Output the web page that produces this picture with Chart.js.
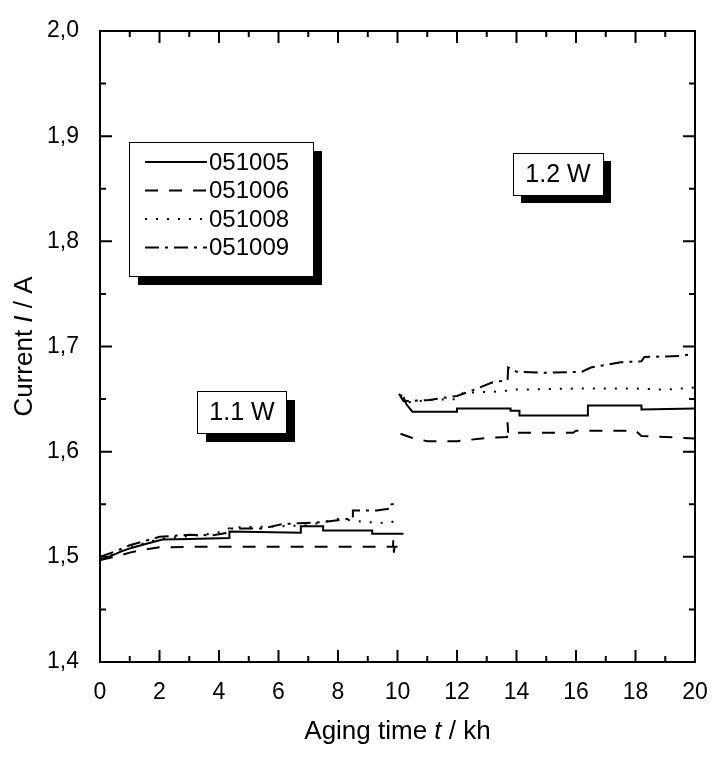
<!DOCTYPE html>
<html>
<head>
<meta charset="utf-8">
<script src="https://cdn.jsdelivr.net/npm/chart.js@4.4.1/dist/chart.umd.min.js"></script>
<style>
  html, body { margin: 0; padding: 0; background: #fff; }
</style>
</head>
<body>
<canvas id="chart" width="720" height="758"></canvas>
<script>
// tick labels
const xTickValues = [0, 2, 4, 6, 8, 10, 12, 14, 16, 18, 20];
const yTickValues = [1.4, 1.5, 1.6, 1.7, 1.8, 1.9, 2.0];
const yTickLabels = ['1,4', '1,5', '1,6', '1,7', '1,8', '1,9', '2,0'];

const seriesNames = ['051005', '051006', '051008', '051009'];

// 1.1 W phase (0-10 kh)
const t1_051005 = [0, 0.3, 0.7, 1.0, 1.5, 2.1, 3.0, 4.35, 4.35, 6.75, 6.75, 7.5, 7.5, 9.15, 9.15, 10.2];
const i1_051005 = [1.497, 1.500, 1.505, 1.508, 1.512, 1.5165, 1.517, 1.518, 1.524, 1.523, 1.529, 1.529, 1.525, 1.525, 1.522, 1.522];
const t1_051006 = [0, 0.5, 1.0, 1.5, 2.0, 3.0, 9.85, 9.86, 9.88, 9.9, 10.0];
const i1_051006 = [1.497, 1.500, 1.504, 1.507, 1.509, 1.5095, 1.5095, 1.517, 1.504, 1.5095, 1.5095];
const t1_051008 = [0, 0.5, 1.0, 2.0, 2.7, 3.5, 4.1, 4.4, 6.0, 7.0, 8.0, 9.0, 9.7, 10.0];
const i1_051008 = [1.499, 1.503, 1.509, 1.517, 1.519, 1.521, 1.524, 1.528, 1.529, 1.530, 1.536, 1.533, 1.532, 1.535];
const t1_051009 = [0, 0.5, 1.0, 2.0, 3.0, 3.8, 4.3, 4.4, 5.5, 6.1, 6.7, 7.5, 8.3, 8.5, 8.5, 9.3, 9.8, 9.8, 10.05];
const i1_051009 = [1.500, 1.505, 1.511, 1.519, 1.521, 1.5205, 1.523, 1.527, 1.527, 1.531, 1.532, 1.533, 1.536, 1.536, 1.544, 1.544, 1.546, 1.550, 1.551];

// 1.2 W phase (10-20 kh)
const t2_051005 = [10.2, 10.3, 10.5, 12.0, 12.0, 13.8, 13.8, 14.1, 14.1, 16.4, 16.4, 18.2, 18.2, 20];
const i2_051005 = [1.652, 1.645, 1.638, 1.638, 1.641, 1.641, 1.639, 1.639, 1.6345, 1.6345, 1.644, 1.644, 1.640, 1.641];
const t2_051006 = [10.1, 10.5, 11.0, 12.0, 13.0, 13.68, 13.7, 13.72, 14.0, 15.9, 16.0, 18.0, 18.2, 19.0, 20];
const i2_051006 = [1.617, 1.613, 1.610, 1.610, 1.613, 1.614, 1.628, 1.617, 1.618, 1.618, 1.620, 1.620, 1.615, 1.614, 1.6125];
const t2_051008 = [10.1, 10.4, 11.0, 12.0, 12.2, 13.2, 13.7, 14.0, 16.0, 18.0, 19.0, 20];
const i2_051008 = [1.654, 1.647, 1.649, 1.650, 1.656, 1.657, 1.658, 1.659, 1.660, 1.660, 1.659, 1.661];
const t2_051009 = [10.05, 10.2, 11.0, 12.0, 12.5, 13.2, 13.7, 13.72, 14.0, 15.0, 16.2, 16.5, 17.5, 18.2, 18.3, 19.5, 20];
const i2_051009 = [1.655, 1.648, 1.649, 1.653, 1.658, 1.666, 1.668, 1.680, 1.676, 1.675, 1.676, 1.680, 1.685, 1.686, 1.690, 1.691, 1.693];

const FONT = '"Liberation Sans", Arial, sans-serif';
const dashes = [[], [13, 11], [2, 9], [14, 6, 3, 6]];

function pts(t, v) {
  return t.map((x, k) => ({ x: x, y: v[k] }));
}
// two runs joined with a gap point
function joined(t1, v1, t2, v2) {
  return pts(t1, v1).concat([{ x: 10.1, y: null }], pts(t2, v2));
}

const seriesData = [
  joined(t1_051005, i1_051005, t2_051005, i2_051005),
  joined(t1_051006, i1_051006, t2_051006, i2_051006),
  joined(t1_051008, i1_051008, t2_051008, i2_051008),
  joined(t1_051009, i1_051009, t2_051009, i2_051009)
];

function boxWithShadow(ctx, x, y, w, h, off) {
  ctx.fillStyle = '#000';
  ctx.fillRect(x + off, y + off, w, h);
  ctx.fillStyle = '#fff';
  ctx.fillRect(x, y, w, h);
  ctx.strokeStyle = '#000';
  ctx.lineWidth = 1;
  ctx.strokeRect(x + 0.5, y + 0.5, w, h);
}

function mixedText(ctx, parts, cx, cy) {
  let total = 0;
  parts.forEach(p => { ctx.font = (p[1] ? 'italic ' : '') + '26px ' + FONT; total += ctx.measureText(p[0]).width; });
  let x = cx - total / 2;
  parts.forEach(p => {
    ctx.font = (p[1] ? 'italic ' : '') + '26px ' + FONT;
    ctx.fillText(p[0], x, cy);
    x += ctx.measureText(p[0]).width;
  });
}

const decorations = {
  id: 'decorations',
  afterDraw(chart) {
    const { ctx, chartArea: a, scales: { x, y } } = chart;
    ctx.save();
    // frame
    ctx.strokeStyle = '#000';
    ctx.lineWidth = 2;
    ctx.strokeRect(a.left, a.top, a.right - a.left, a.bottom - a.top);
    // inward ticks
    ctx.beginPath();
    for (let v = 0; v <= 20; v++) {
      const px = x.getPixelForValue(v);
      const len = v % 2 === 0 ? 12 : 6;
      ctx.moveTo(px, a.bottom); ctx.lineTo(px, a.bottom - len);
      ctx.moveTo(px, a.top); ctx.lineTo(px, a.top + len);
    }
    for (let k = 0; k <= 12; k++) {
      const py = y.getPixelForValue(1.4 + k * 0.05);
      const len = k % 2 === 0 ? 12 : 6;
      ctx.moveTo(a.left, py); ctx.lineTo(a.left + len, py);
      ctx.moveTo(a.right, py); ctx.lineTo(a.right - len, py);
    }
    ctx.stroke();

    // axis titles
    ctx.fillStyle = '#000';
    ctx.textBaseline = 'middle';
    ctx.textAlign = 'left';
    mixedText(ctx, [['Aging time ', false], ['t', true], [' / kh', false]], (a.left + a.right) / 2, 732);
    ctx.save();
    ctx.translate(25, (a.top + a.bottom) / 2);
    ctx.rotate(-Math.PI / 2);
    mixedText(ctx, [['Current ', false], ['I', true], [' / A', false]], 0, 0);
    ctx.restore();

    // legend
    boxWithShadow(ctx, 129, 142, 184, 134, 9);
    chart.data.datasets.forEach((ds, k) => {
      const ry = 162 + k * 28.5;
      ctx.beginPath();
      ctx.setLineDash(ds.borderDash);
      ctx.lineWidth = 2;
      ctx.moveTo(145, ry); ctx.lineTo(207, ry);
      ctx.stroke();
      ctx.setLineDash([]);
      ctx.fillStyle = '#000';
      ctx.font = '24px ' + FONT;
      ctx.textAlign = 'left';
      ctx.fillText(ds.label, 209, ry + 1);
    });

    // power labels
    ctx.textAlign = 'center';
    ctx.font = '25px ' + FONT;
    boxWithShadow(ctx, 197, 391, 89, 42, 9);
    ctx.fillStyle = '#000';
    ctx.fillText('1.1 W', 242, 413);
    boxWithShadow(ctx, 513, 153, 90, 42, 8);
    ctx.fillStyle = '#000';
    ctx.fillText('1.2 W', 558, 175);
    ctx.restore();
  }
};

new Chart(document.getElementById('chart').getContext('2d'), {
  type: 'line',
  data: {
    datasets: seriesNames.map((name, k) => ({
      label: name,
      data: seriesData[k],
      borderColor: '#000',
      borderWidth: 2,
      borderDash: dashes[k],
      pointRadius: 0,
      fill: false,
      tension: 0,
      spanGaps: false
    }))
  },
  options: {
    responsive: false,
    animation: false,
    devicePixelRatio: 1,
    layout: { padding: { left: 0, top: 31, right: 25, bottom: 0 } },
    plugins: { legend: { display: false }, tooltip: { enabled: false } },
    scales: {
      x: {
        type: 'linear',
        min: 0,
        max: 20,
        grid: { display: false },
        border: { display: false },
        afterBuildTicks: s => { s.ticks = xTickValues.map(v => ({ value: v })); },
        afterFit: s => { s.height = 96; },
        ticks: {
          autoSkip: false,
          maxRotation: 0,
          padding: 9,
          color: '#000',
          font: { family: FONT, size: 23 }
        }
      },
      y: {
        min: 1.4,
        max: 2.0,
        grid: { display: false },
        border: { display: false },
        afterBuildTicks: s => { s.ticks = yTickValues.map(v => ({ value: v })); },
        afterFit: s => { s.width = 100; },
        ticks: {
          padding: 13,
          color: '#000',
          font: { family: FONT, size: 23 },
          callback: (v, idx) => yTickLabels[idx]
        }
      }
    }
  },
  plugins: [decorations]
});
</script>
</body>
</html>
